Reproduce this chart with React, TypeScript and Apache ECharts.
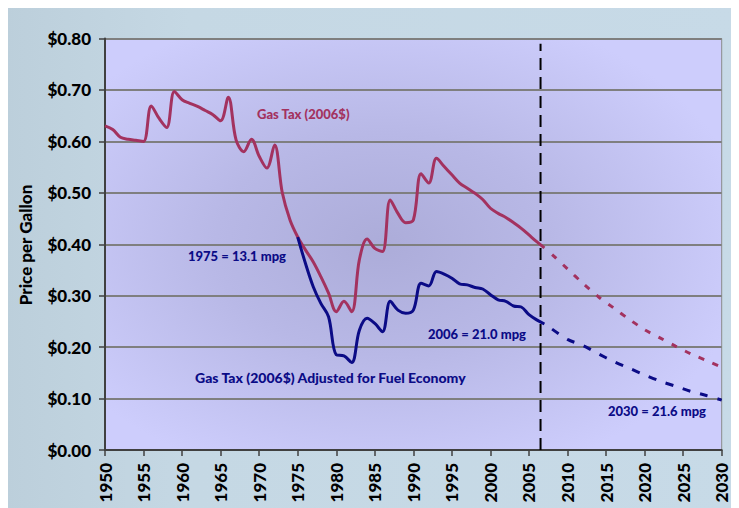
import React, { useEffect, useRef } from "react";
import * as echarts from "echarts";

// ---------- data ----------
const histYears = [
  1950, 1951, 1952, 1953, 1954, 1955, 1956, 1957, 1958, 1959,
  1960, 1961, 1962, 1963, 1964, 1965, 1966, 1967, 1968, 1969,
  1970, 1971, 1972, 1973, 1974, 1975, 1976, 1977, 1978, 1979,
  1980, 1981, 1982, 1983, 1984, 1985, 1986, 1987, 1988, 1989,
  1990, 1991, 1992, 1993, 1994, 1995, 1996, 1997, 1998, 1999,
  2000, 2001, 2002, 2003, 2004, 2005, 2006, 2007,
];
const gasTax = [
  0.630, 0.623, 0.608, 0.604, 0.602, 0.600, 0.669, 0.645, 0.627, 0.697,
  0.681, 0.674, 0.668, 0.660, 0.652, 0.640, 0.686, 0.603, 0.580, 0.604,
  0.571, 0.548, 0.593, 0.500, 0.447, 0.414, 0.389, 0.366, 0.337, 0.305,
  0.269, 0.289, 0.269, 0.370, 0.410, 0.392, 0.386, 0.486, 0.460, 0.442,
  0.447, 0.537, 0.519, 0.567, 0.551, 0.535, 0.519, 0.509, 0.499, 0.487,
  0.470, 0.460, 0.452, 0.442, 0.431, 0.418, 0.405, 0.393,
];
const adjYears = [
  1975, 1976, 1977, 1978, 1979, 1980, 1981, 1982, 1983, 1984,
  1985, 1986, 1987, 1988, 1989, 1990, 1991, 1992, 1993, 1994,
  1995, 1996, 1997, 1998, 1999, 2000, 2001, 2002, 2003, 2004,
  2005, 2006, 2007,
];
const adjusted = [
  0.414, 0.363, 0.318, 0.285, 0.259, 0.185, 0.183, 0.170, 0.233, 0.256,
  0.246, 0.230, 0.289, 0.272, 0.266, 0.272, 0.324, 0.319, 0.347, 0.342,
  0.334, 0.323, 0.321, 0.316, 0.313, 0.302, 0.292, 0.289, 0.280, 0.278,
  0.263, 0.253, 0.245,
];
const projYears = [2008, 2010, 2012, 2014, 2016, 2018, 2020, 2022, 2024, 2026, 2028, 2030];
const gasTaxProj = [0.380, 0.352, 0.324, 0.298, 0.276, 0.254, 0.234, 0.218, 0.202, 0.187, 0.174, 0.161];
const adjustedProj = [0.235, 0.215, 0.203, 0.187, 0.172, 0.159, 0.146, 0.134, 0.124, 0.114, 0.106, 0.097];
const dividerYear = 2006.5;
const dividerRange = [0, 0.79];

const labels = {
  gasTax: "Gas Tax (2006$)",
  adjusted: "Gas Tax (2006$) Adjusted for Fuel Economy",
  mpg1975: "1975 = 13.1 mpg",
  mpg2006: "2006 = 21.0 mpg",
  mpg2030: "2030 = 21.6 mpg",
  yTitle: "Price per Gallon",
};

const RED = "#a3325f";
const BLUE = "#0b0b86";
const FONT = "Lato, 'Open Sans', sans-serif";

const pairs = (xs: number[], ys: number[]) => xs.map((x, i) => [x, ys[i]]);

export default function App() {
  const ref = useRef<HTMLDivElement>(null);
  useEffect(() => {
    if (!ref.current) return;
    const chart = echarts.init(ref.current, null, { renderer: "svg" });
    const textStyle = (fill: string, size: number) => ({
      fill,
      fontFamily: FONT,
      fontWeight: 900,
      fontSize: size,
      textVerticalAlign: "middle",
    });
    chart.setOption({
      animation: false,
      backgroundColor: new echarts.graphic.LinearGradient(0, 0, 1, 0, [
        { offset: 0, color: "#bccfdb" },
        { offset: 0.25, color: "#c5d8e4" },
        { offset: 1, color: "#c7dae7" },
      ]),
      grid: {
        left: 99,
        top: 30.5,
        right: 17.3,
        bottom: 58,
        show: true,
        borderColor: "#8a8a8a",
        borderWidth: 1,
        backgroundColor: new echarts.graphic.RadialGradient(0.45, 0.5, 0.6, [
          { offset: 0, color: "#acacd9" },
          { offset: 0.45, color: "#b8b8e6" },
          { offset: 1, color: "#cdcdfc" },
        ]),
      },
      xAxis: {
        type: "value",
        min: 1950,
        max: 2030,
        interval: 5,
        axisLine: { show: true, lineStyle: { color: "#404040", width: 2 } },
        axisTick: { show: true, length: 6, lineStyle: { color: "#404040", width: 1.5 } },
        splitLine: { show: false },
        axisLabel: {
          rotate: 90,
          margin: 13,
          color: "#000",
          fontFamily: FONT,
          fontWeight: 900,
          fontSize: 17,
          formatter: (v: number) => String(v),
        },
      },
      yAxis: {
        type: "value",
        min: 0,
        max: 0.8,
        interval: 0.1,
        axisLine: { show: true, lineStyle: { color: "#404040", width: 2 } },
        axisTick: { show: true, length: 6, lineStyle: { color: "#404040", width: 1.5 } },
        splitLine: { show: true, lineStyle: { color: "#7f7f7f", width: 2 } },
        axisLabel: {
          margin: 14,
          color: "#000",
          fontFamily: FONT,
          fontWeight: 900,
          fontSize: 17,
          formatter: (v: number) => "$" + v.toFixed(2),
        },
      },
      series: [
        {
          type: "line",
          data: pairs(histYears, gasTax),
          smooth: 0.35,
          showSymbol: false,
          lineStyle: { color: RED, width: 3 },
        },
        {
          type: "line",
          data: pairs(adjYears, adjusted),
          smooth: 0.35,
          showSymbol: false,
          lineStyle: { color: BLUE, width: 3 },
        },
        {
          type: "line",
          data: pairs(projYears, gasTaxProj),
          smooth: 0.3,
          showSymbol: false,
          lineStyle: { color: RED, width: 3, type: [6, 9] },
        },
        {
          type: "line",
          data: pairs(projYears, adjustedProj),
          smooth: 0.3,
          showSymbol: false,
          lineStyle: { color: BLUE, width: 3, type: [8, 10] },
        },
        {
          type: "line",
          data: [[dividerYear, dividerRange[0]], [dividerYear, dividerRange[1]]],
          showSymbol: false,
          lineStyle: { color: "#000", width: 2, type: [12, 7] },
        },
      ],
      graphic: [
        { type: "text", left: 251, top: 99, style: { text: labels.gasTax, ...textStyle(RED, 13) } },
        { type: "text", left: 182, top: 241, style: { text: labels.mpg1975, ...textStyle(BLUE, 13) } },
        { type: "text", left: 189, top: 362, style: { text: labels.adjusted, ...textStyle(BLUE, 14) } },
        { type: "text", left: 422, top: 319, style: { text: labels.mpg2006, ...textStyle(BLUE, 13) } },
        { type: "text", left: 602, top: 396, style: { text: labels.mpg2030, ...textStyle(BLUE, 13) } },
        {
          type: "text",
          x: 19,
          y: 237,
          rotation: Math.PI / 2,
          style: {
            text: labels.yTitle,
            fill: "#000",
            fontFamily: FONT,
            fontWeight: 900,
            fontSize: 17,
            align: "center",
            verticalAlign: "middle",
          },
        },
      ],
    });
    return () => chart.dispose();
  }, []);
  return <div ref={ref} style={{ width: 733, height: 500, marginLeft: -2 }} />;
}
